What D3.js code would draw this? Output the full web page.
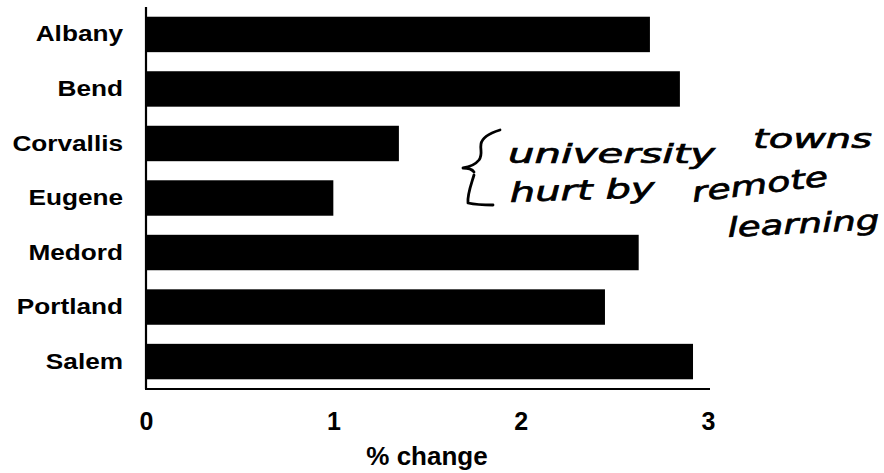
<!DOCTYPE html>
<html>
<head>
<meta charset="utf-8">
<script src="https://cdn.jsdelivr.net/npm/d3@7"></script>
<style>
  html, body { margin: 0; padding: 0; background: #fff; }
  svg { display: block; }
</style>
</head>
<body>
<svg id="chart" width="884" height="473"></svg>
<script>
const categories = ["Albany", "Bend", "Corvallis", "Eugene", "Medord", "Portland", "Salem"];
const values = [2.69, 2.85, 1.35, 1.00, 2.63, 2.45, 2.92];
const xTicks = [0, 1, 2, 3];
const xTitle = "% change";
const noteWords = ["university", "towns", "hurt by", "remote", "learning"];

const svg = d3.select("#chart");
const x = d3.scaleLinear().domain([0, 3]).range([146, 708]);
const y = d3.scaleBand().domain(categories).range([8, 388]).paddingInner(0.35).paddingOuter(0.16);

const data = categories.map((c, i) => ({ c, v: values[i] }));

// bars
svg.append("g").selectAll("rect").data(data).join("rect")
  .attr("x", x(0))
  .attr("y", d => y(d.c))
  .attr("width", d => x(d.v) - x(0))
  .attr("height", y.bandwidth())
  .attr("fill", "#000");

// left axis
const yAxis = svg.append("g")
  .attr("transform", `translate(${x(0)},0)`)
  .call(d3.axisLeft(y).tickSize(0).tickPadding(23));
yAxis.select(".domain").remove();
yAxis.selectAll("text")
  .attr("font-family", "'Liberation Sans', Arial, sans-serif")
  .attr("font-size", 22)
  .attr("font-weight", "bold")
  .attr("fill", "#000")
  .each(function () {
    const w = this.getComputedTextLength();
    d3.select(this).attr("textLength", w * 1.19).attr("lengthAdjust", "spacingAndGlyphs");
  });

// axis lines
svg.append("line").attr("x1", x(0)).attr("x2", x(0)).attr("y1", 7).attr("y2", 389)
  .attr("stroke", "#000").attr("stroke-width", 2.2);
svg.append("line").attr("x1", x(0) - 1).attr("x2", x(3) + 2).attr("y1", 389).attr("y2", 389)
  .attr("stroke", "#000").attr("stroke-width", 2.2);

// bottom axis labels
const xAxis = svg.append("g")
  .attr("transform", "translate(0,389)")
  .call(d3.axisBottom(x).tickValues(xTicks).tickFormat(d3.format("d")).tickSize(0).tickPadding(23));
xAxis.select(".domain").remove();
xAxis.selectAll("text")
  .attr("font-family", "'Liberation Sans', Arial, sans-serif")
  .attr("font-size", 25)
  .attr("font-weight", "bold")
  .attr("fill", "#000");

svg.append("text")
  .attr("x", (x(0) + x(3)) / 2)
  .attr("y", 465)
  .attr("text-anchor", "middle")
  .attr("font-family", "'Liberation Sans', Arial, sans-serif")
  .attr("font-size", 26)
  .attr("font-weight", "bold")
  .text(xTitle);

// handwritten annotation
const note = svg.append("g").attr("fill", "#000");
const brace = note.append("g").attr("fill", "none").attr("stroke", "#000")
  .attr("stroke-width", 2.8).attr("stroke-linecap", "round").attr("stroke-linejoin", "round");
brace.append("path").attr("d", "M500,130 C490,133 482,138 481,144 C480,150 483,154 479,160 C475,165 469,167 463,168 C468,168 472,169 474,172");
brace.append("path").attr("d", "M474,175 C471,185 467,195 468,203 C477,205 485,205 493,205");

const place = [
  { x: 508, y: 163, w: 207, r: 0 },
  { x: 753, y: 148, w: 119, r: 0 },
  { x: 510, y: 202, w: 145, r: -2 },
  { x: 693, y: 202, w: 137, r: -7 },
  { x: 728, y: 237, w: 152, r: -3 }
];
noteWords.forEach((t, i) => {
  const p = place[i];
  note.append("text")
    .attr("transform", `translate(${p.x},${p.y}) rotate(${p.r})`)
    .attr("font-family", "'DejaVu Sans', sans-serif")
    .attr("font-size", 27)
    .attr("font-style", "italic")
    .attr("stroke", "#000")
    .attr("stroke-width", 0.7)
    .attr("textLength", p.w)
    .attr("lengthAdjust", "spacingAndGlyphs")
    .text(t);
});
</script>
</body>
</html>
